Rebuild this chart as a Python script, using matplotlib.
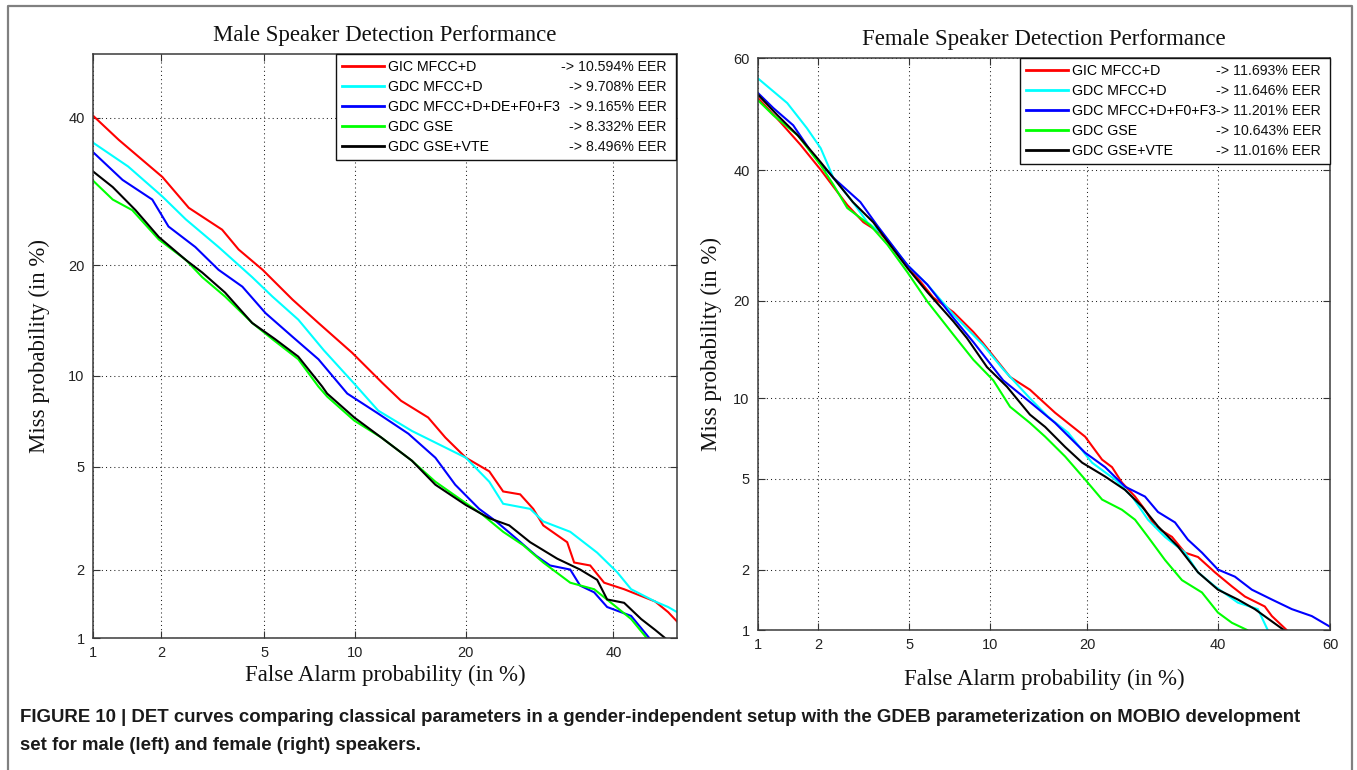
import math
import numpy as np
import matplotlib
matplotlib.use("Agg")
import matplotlib.pyplot as plt
from matplotlib.lines import Line2D

# ---------------- data (percent) ----------------
legend_names_male = ["GIC MFCC+D", "GDC MFCC+D", "GDC MFCC+D+DE+F0+F3", "GDC GSE", "GDC GSE+VTE"]
eer_male = ["-> 10.594% EER", "-> 9.708% EER", "-> 9.165% EER", "-> 8.332% EER", "-> 8.496% EER"]
legend_names_female = ["GIC MFCC+D", "GDC MFCC+D", "GDC MFCC+D+F0+F3", "GDC GSE", "GDC GSE+VTE"]
eer_female = ["-> 11.693% EER", "-> 11.646% EER", "-> 11.201% EER", "-> 10.643% EER", "-> 11.016% EER"]
series_colors = ["#ff0000", "#00ffff", "#0000ff", "#00ff00", "#000000"]

male_ticks = [1, 2, 5, 10, 20, 40]
female_ticks = [1, 2, 5, 10, 20, 40, 60]

male_gic_fa = [1.0, 1.31, 2.02, 2.59, 3.50, 4.04, 4.94, 6.28, 7.66, 9.78, 12.02, 13.58, 16.08, 17.80, 20.01,
               22.73, 24.43, 26.61, 28.34, 29.71, 33.09, 34.10, 36.48, 38.58, 41.66, 46.52, 48.59, 50.0]
male_gic_miss = [40.3, 36.6, 31.2, 27.0, 24.2, 21.8, 19.5, 16.4, 14.2, 11.7, 9.51, 8.36, 7.38, 6.33, 5.39,
                 4.82, 4.07, 3.97, 3.50, 3.02, 2.59, 2.14, 2.08, 1.76, 1.65, 1.46, 1.31, 1.19]

male_cyan_fa = [1.0, 1.44, 2.02, 2.52, 3.39, 4.53, 5.35, 6.57, 7.97, 9.93, 11.70, 14.55, 17.80, 20.01, 22.73,
                24.43, 27.93, 29.71, 33.53, 37.52, 40.58, 42.75, 46.52, 48.59, 50.0]
male_cyan_miss = [36.2, 32.7, 28.5, 25.5, 22.1, 18.7, 16.7, 14.5, 11.9, 9.45, 7.77, 6.66, 5.85, 5.39, 4.42,
                  3.66, 3.50, 3.13, 2.85, 2.35, 1.95, 1.65, 1.46, 1.38, 1.31]

male_blue_fa = [1.0, 1.36, 1.83, 2.14, 2.75, 3.39, 4.17, 5.06, 6.28, 7.66, 9.45, 11.70, 14.23, 16.79, 18.85,
                21.53, 23.57, 26.10, 28.75, 30.66, 33.53, 34.98, 37.07, 39.04, 42.75, 45.6]
male_blue_miss = [34.8, 30.8, 28.1, 24.6, 22.1, 19.5, 17.7, 15.1, 13.0, 11.2, 8.81, 7.60, 6.52, 5.39, 4.31,
                  3.50, 3.13, 2.68, 2.28, 2.08, 2.00, 1.71, 1.60, 1.38, 1.26, 1.0]

male_green_fa = [1.0, 1.23, 1.50, 1.95, 2.52, 2.93, 3.59, 4.53, 5.35, 6.57, 7.66, 8.17, 9.93, 11.94, 14.55,
                 16.79, 19.29, 21.89, 24.43, 27.0, 29.71, 33.53, 37.07, 39.65, 42.75, 45.2]
male_green_miss = [30.7, 28.1, 26.7, 23.0, 20.6, 18.7, 16.7, 14.2, 12.8, 11.2, 9.26, 8.62, 7.21, 6.33, 5.26,
                   4.42, 3.83, 3.33, 2.85, 2.52, 2.14, 1.76, 1.65, 1.44, 1.22, 1.0]

male_black_fa = [1.0, 1.23, 1.55, 1.95, 2.52, 2.93, 3.59, 4.53, 5.47, 6.57, 7.88, 8.17, 9.93, 11.94, 14.55,
                 16.79, 20.01, 22.73, 25.20, 27.93, 31.66, 34.98, 37.52, 39.04, 41.66, 44.32, 46.52, 48.1]
male_black_miss = [32.0, 29.8, 26.7, 23.3, 20.6, 19.2, 17.1, 14.2, 12.8, 11.4, 9.26, 8.81, 7.38, 6.33, 5.26,
                   4.31, 3.62, 3.22, 3.02, 2.59, 2.22, 2.00, 1.81, 1.49, 1.44, 1.22, 1.09, 1.0]

fem_gic_fa = [1.0, 1.30, 1.64, 2.05, 2.45, 2.72, 3.21, 3.80, 4.92, 6.23, 7.42, 8.77, 9.42, 11.71, 13.57, 16.19,
              19.74, 21.93, 23.28, 24.67, 26.57, 28.06, 29.61, 32.30, 34.42, 36.62, 39.53, 42.50, 44.81, 48.37,
              49.65, 52.3]
fem_gic_miss = [52.9, 48.6, 44.5, 40.1, 36.3, 34.1, 31.3, 29.6, 24.8, 20.4, 18.6, 16.3, 15.2, 11.8, 10.7, 8.91,
                7.29, 5.96, 5.57, 4.83, 4.23, 3.72, 3.15, 2.83, 2.40, 2.29, 1.94, 1.66, 1.48, 1.32, 1.18, 1.0]

fem_cyan_fa = [1.0, 1.41, 1.76, 2.05, 2.35, 2.88, 3.34, 3.92, 4.92, 5.91, 7.42, 9.49, 11.11, 13.57, 15.43,
               17.68, 20.62, 23.69, 26.13, 28.52, 31.17, 34.42, 36.62, 39.53, 43.56, 47.13, 48.9]
fem_cyan_miss = [56.4, 52.0, 47.5, 43.9, 38.7, 34.6, 31.3, 29.3, 24.8, 22.1, 18.3, 14.9, 12.5, 10.0, 8.62,
                 7.54, 5.80, 4.97, 4.23, 3.37, 2.83, 2.40, 1.94, 1.66, 1.38, 1.28, 1.0]

fem_blue_fa = [1.0, 1.20, 1.51, 1.89, 2.35, 3.11, 3.68, 4.92, 5.91, 7.42, 8.77, 11.11, 13.57, 16.19, 19.74,
               22.34, 25.11, 28.06, 30.07, 32.79, 34.92, 37.29, 40.05, 43.03, 46.05, 49.65, 53.24, 56.80, 60.0]
fem_blue_miss = [53.8, 51.1, 48.0, 42.7, 38.7, 34.6, 30.8, 24.8, 22.1, 17.9, 15.2, 11.5, 9.71, 8.19, 6.34,
                 5.57, 4.65, 4.23, 3.64, 3.28, 2.75, 2.40, 2.00, 1.85, 1.60, 1.43, 1.28, 1.18, 1.04]

fem_green_fa = [1.0, 1.20, 1.59, 2.05, 2.35, 2.72, 3.44, 4.07, 4.92, 5.91, 7.42, 8.77, 10.29, 11.71, 13.57,
                15.12, 17.33, 19.74, 21.93, 24.67, 26.57, 28.52, 31.17, 33.93, 37.29, 40.05, 42.50, 45.2]
fem_green_miss = [52.5, 49.8, 46.2, 40.9, 37.5, 33.6, 30.8, 27.8, 23.8, 19.9, 16.0, 13.4, 11.5, 9.35, 8.19,
                  7.29, 6.13, 4.97, 4.11, 3.72, 3.37, 2.83, 2.22, 1.78, 1.55, 1.23, 1.09, 1.0]

fem_black_fa = [1.0, 1.26, 1.59, 1.98, 2.35, 2.88, 3.54, 4.92, 5.91, 7.42, 8.33, 9.79, 11.44, 13.57, 15.12,
                17.33, 19.37, 22.34, 25.11, 27.60, 30.07, 33.28, 36.62, 40.05, 43.56, 46.59, 51.8]
fem_black_miss = [53.5, 49.8, 46.2, 42.1, 38.7, 34.6, 31.3, 24.4, 21.1, 17.5, 15.6, 12.7, 10.95, 8.77, 7.92,
                  6.67, 5.80, 5.11, 4.51, 3.84, 3.15, 2.56, 1.94, 1.60, 1.43, 1.28, 1.0]

male_series = [(male_gic_fa, male_gic_miss), (male_cyan_fa, male_cyan_miss), (male_blue_fa, male_blue_miss),
               (male_green_fa, male_green_miss), (male_black_fa, male_black_miss)]
female_series = [(fem_gic_fa, fem_gic_miss), (fem_cyan_fa, fem_cyan_miss), (fem_blue_fa, fem_blue_miss),
                 (fem_green_fa, fem_green_miss), (fem_black_fa, fem_black_miss)]

# ---------------- normal deviate (probit) scale ----------------
_erf = np.vectorize(math.erf, otypes=[float])


def _phi(z):
    z = np.asarray(z, dtype=float)
    return 0.5 * (1.0 + _erf(z / math.sqrt(2.0)))


_A = [-3.969683028665376e+01, 2.209460984245205e+02, -2.759285104469687e+02,
      1.383577518672690e+02, -3.066479806614716e+01, 2.506628277459239e+00]
_B = [-5.447609879822406e+01, 1.615858368580409e+02, -1.556989798598866e+02,
      6.680131188771972e+01, -1.328068155288572e+01]
_C = [-7.784894002430293e-03, -3.223964580411365e-01, -2.400758277161838e+00,
      -2.549732539343734e+00, 4.374664141464968e+00, 2.938163982698783e+00]
_D = [7.784695709041462e-03, 3.224671290700398e-01, 2.445134137142996e+00, 3.754408661907416e+00]


def _ppf(p):
    p = np.asarray(p, dtype=float)
    shape = p.shape
    p = np.clip(np.atleast_1d(p).ravel(), 1e-9, 1 - 1e-9)
    x = np.empty_like(p)
    plow = 0.02425
    lo = p < plow
    hi = p > 1 - plow
    mid = ~(lo | hi)
    q = np.sqrt(-2 * np.log(p[lo]))
    x[lo] = (((((_C[0]*q+_C[1])*q+_C[2])*q+_C[3])*q+_C[4])*q+_C[5]) / ((((_D[0]*q+_D[1])*q+_D[2])*q+_D[3])*q+1)
    q = p[mid] - 0.5
    r = q * q
    x[mid] = (((((_A[0]*r+_A[1])*r+_A[2])*r+_A[3])*r+_A[4])*r+_A[5])*q / \
             (((((_B[0]*r+_B[1])*r+_B[2])*r+_B[3])*r+_B[4])*r+1)
    q = np.sqrt(-2 * np.log(1 - p[hi]))
    x[hi] = -(((((_C[0]*q+_C[1])*q+_C[2])*q+_C[3])*q+_C[4])*q+_C[5]) / ((((_D[0]*q+_D[1])*q+_D[2])*q+_D[3])*q+1)
    return x.reshape(shape)


def fwd(v):
    return _ppf(np.asarray(v, dtype=float) / 100.0)


def inv(z):
    return 100.0 * _phi(z)


# ---------------- figure ----------------
W, H = 1357, 770
fig = plt.figure(figsize=(W / 100, H / 100), dpi=100)
fig.patch.set_facecolor("white")

SERIF = "Liberation Serif"
SANS = "Liberation Sans"


def px_axes(x0, y0, x1, y1):
    return fig.add_axes([x0 / W, 1 - y1 / H, (x1 - x0) / W, (y1 - y0) / H])


def setup(ax, xlim, ylim, xticks, yticks, title, title_pad, xlab_y, ylab_x):
    ax.set_xscale("function", functions=(fwd, inv))
    ax.set_yscale("function", functions=(fwd, inv))
    ax.set_xlim(*xlim)
    ax.set_ylim(*ylim)
    ax.set_xticks(xticks)
    ax.set_xticklabels([str(t) for t in xticks])
    ax.set_yticks(yticks)
    ax.set_yticklabels([str(t) for t in yticks])
    ax.minorticks_off()
    ax.grid(True, which="major", color="#222222", linestyle=(0, (1, 3)), linewidth=0.75)
    ax.tick_params(which="major", direction="in", length=5, width=0.8, top=True, right=True,
                   labelsize=10.5, pad=6, color="#333333", labelcolor="#222222")
    for lab in ax.get_xticklabels() + ax.get_yticklabels():
        lab.set_fontfamily(SANS)
    for sp in ax.spines.values():
        sp.set_color("#3a3a3a")
        sp.set_linewidth(1.1)
    ax.set_title(title, fontfamily=SERIF, fontsize=16.5, pad=title_pad, color="#111111")
    ax.set_xlabel("False Alarm probability (in %)", fontfamily=SERIF, fontsize=16.5, va="center",
                  color="#111111")
    ax.xaxis.set_label_coords(0.5, xlab_y)
    ax.set_ylabel("Miss probability (in %)", fontfamily=SERIF, fontsize=16.5, va="center", color="#111111")
    ax.yaxis.set_label_coords(ylab_x, 0.5)


ax1 = px_axes(93, 54, 677, 638)
ax2 = px_axes(758, 58, 1330, 630)

setup(ax1, (1, 50), (1, 50), male_ticks, male_ticks, "Male Speaker Detection Performance", 9,
      -0.064, -0.091)
setup(ax2, (1, 60), (1, 60), female_ticks, female_ticks, "Female Speaker Detection Performance", 9,
      -0.087, -0.082)

legends = []
for ax, series, names, eers, bbox in [
        (ax1, male_series, legend_names_male, eer_male, (0.416, 0.80, 0.582, 0.20)),
        (ax2, female_series, legend_names_female, eer_female, (0.458, 0.80, 0.542, 0.20))]:
    handles = []
    for (fa, miss), col in zip(series, series_colors):
        ax.plot(fa, miss, color=col, linewidth=1.5, solid_joinstyle="miter")
        handles.append(Line2D([0], [0], color=col, linewidth=2.0))
    leg = ax.legend(handles, names, loc="upper left", bbox_to_anchor=bbox, bbox_transform=ax.transAxes,
                    mode="expand", borderaxespad=0, frameon=True, fancybox=False, framealpha=1,
                    edgecolor="#111111", prop={"family": SANS, "size": 10.2}, handlelength=3.0,
                    handletextpad=0.25, labelspacing=0.42, borderpad=0.42)
    leg.get_frame().set_linewidth(1.0)
    legends.append((ax, leg, eers))

fig.canvas.draw()
for ax, leg, eers in legends:
    fb = leg.get_frame().get_window_extent()
    xr = fb.x1 - 9
    inv_tr = ax.transAxes.inverted()
    for t, e in zip(leg.get_texts(), eers):
        bb = t.get_window_extent()
        yc = 0.5 * (bb.y0 + bb.y1)
        xa, ya = inv_tr.transform((xr, yc))
        ax.text(xa, ya, e, transform=ax.transAxes, ha="right", va="center", fontfamily=SANS,
                fontsize=10.2, color="#111111", zorder=10)

# outer frame (open at the bottom)
frame_col = "#808080"
fig.add_artist(Line2D([8 / W, 8 / W, 1352 / W, 1352 / W], [0, 1 - 6 / H, 1 - 6 / H, 0],
                      transform=fig.transFigure, color=frame_col, linewidth=1.6))

cap1 = ("FIGURE 10 | DET curves comparing classical parameters in a gender-independent setup with the "
        "GDEB parameterization on MOBIO development")
cap2 = "set for male (left) and female (right) speakers."
fig.text(20 / W, 1 - 718 / H, cap1, fontfamily=SANS, fontweight="bold", fontsize=13.4, va="center",
         ha="left", color="#1a1a1a")
fig.text(20 / W, 1 - 745 / H, cap2, fontfamily=SANS, fontweight="bold", fontsize=13.4, va="center",
         ha="left", color="#1a1a1a")

fig.savefig("out.png", dpi=100, facecolor="white")
